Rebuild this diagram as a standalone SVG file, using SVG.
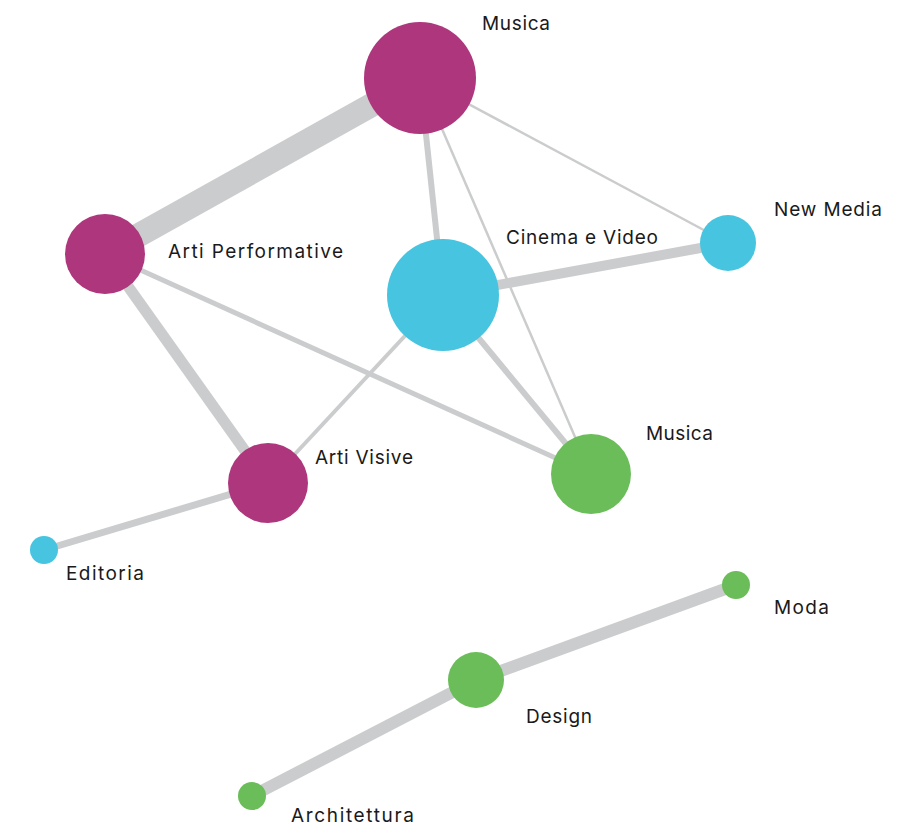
<svg xmlns="http://www.w3.org/2000/svg" width="903" height="827" viewBox="0 0 903 827">
  <style>
    .edge { stroke: #cbcccd; fill: none; stroke-linecap: butt; }
    .arte { fill: #ad367c; }
    .media { fill: #47c4df; }
    .prog { fill: #6abd58; }
    .label { font-family: Inter, "Open Sans", "Liberation Sans", sans-serif; font-size: 19px; fill: #1a1a1a; }
  </style>
  <rect width="903" height="827" fill="#ffffff"/>

  <!-- links between sectors; width reflects link strength -->
  <g id="connectors">
    <line class="edge" x1="105" y1="254" x2="420" y2="78" stroke-width="24"/>
    <line class="edge" x1="420" y1="78" x2="443" y2="295" stroke-width="6"/>
    <line class="edge" x1="420" y1="78" x2="591" y2="474" stroke-width="2.5"/>
    <line class="edge" x1="420" y1="78" x2="728" y2="243" stroke-width="2.5"/>
    <line class="edge" x1="443" y1="295" x2="728" y2="243" stroke-width="10"/>
    <line class="edge" x1="443" y1="295" x2="268" y2="483" stroke-width="4"/>
    <line class="edge" x1="443" y1="295" x2="591" y2="474" stroke-width="6"/>
    <line class="edge" x1="105" y1="254" x2="591" y2="474" stroke-width="5"/>
    <line class="edge" x1="105" y1="254" x2="268" y2="483" stroke-width="11"/>
    <line class="edge" x1="268" y1="483" x2="44" y2="550" stroke-width="7"/>
    <line class="edge" x1="476" y1="680" x2="736" y2="585" stroke-width="12"/>
    <line class="edge" x1="476" y1="680" x2="252" y2="796" stroke-width="12"/>
  </g>

  <g id="musica-top">
    <circle class="arte" cx="420" cy="78" r="56"/>
    <text class="label" x="482" y="30" textLength="68" lengthAdjust="spacing">Musica</text>
  </g>
  <g id="arti-performative">
    <circle class="arte" cx="105" cy="254" r="40"/>
    <text class="label" x="168" y="258" textLength="175" lengthAdjust="spacing">Arti Performative</text>
  </g>
  <g id="cinema-video">
    <circle class="media" cx="443" cy="295" r="56"/>
    <text class="label" x="506" y="244" textLength="152" lengthAdjust="spacing">Cinema e Video</text>
  </g>
  <g id="new-media">
    <circle class="media" cx="728" cy="243" r="28"/>
    <text class="label" x="774" y="216" textLength="108" lengthAdjust="spacing">New Media</text>
  </g>
  <g id="arti-visive">
    <circle class="arte" cx="268" cy="483" r="40"/>
    <text class="label" x="315" y="464" textLength="98" lengthAdjust="spacing">Arti Visive</text>
  </g>
  <g id="musica-green">
    <circle class="prog" cx="591" cy="474" r="40"/>
    <text class="label" x="646" y="440" textLength="67" lengthAdjust="spacing">Musica</text>
  </g>
  <g id="editoria">
    <circle class="media" cx="44" cy="550" r="14"/>
    <text class="label" x="66" y="580" textLength="78" lengthAdjust="spacing">Editoria</text>
  </g>
  <g id="moda">
    <circle class="prog" cx="736" cy="585" r="14"/>
    <text class="label" x="774" y="614" textLength="55" lengthAdjust="spacing">Moda</text>
  </g>
  <g id="design">
    <circle class="prog" cx="476" cy="680" r="28"/>
    <text class="label" x="526" y="723" textLength="66" lengthAdjust="spacing">Design</text>
  </g>
  <g id="architettura">
    <circle class="prog" cx="252" cy="796" r="14"/>
    <text class="label" x="291" y="822" textLength="123" lengthAdjust="spacing">Architettura</text>
  </g>
</svg>
